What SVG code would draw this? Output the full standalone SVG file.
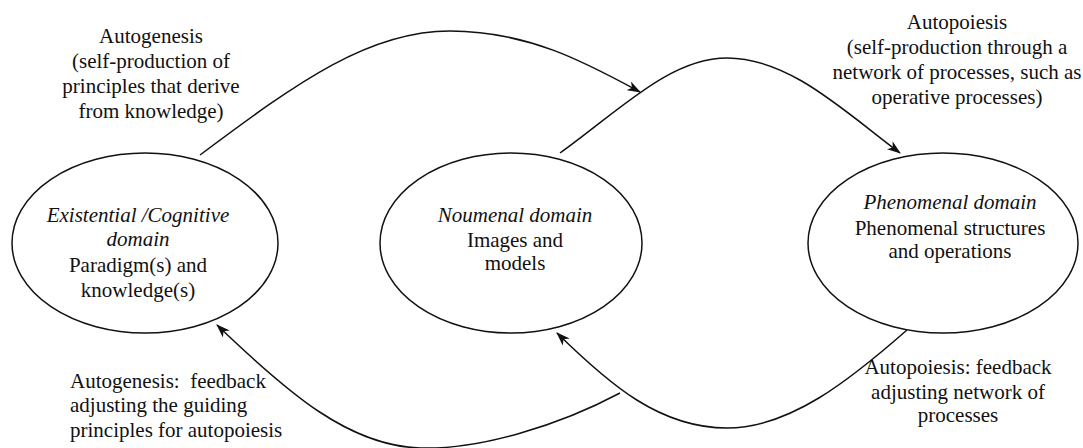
<svg xmlns="http://www.w3.org/2000/svg" width="1083" height="448" viewBox="0 0 1083 448">
  <defs>
    <marker id="arrow" viewBox="0 0 14 10" refX="13" refY="5" markerWidth="14" markerHeight="10" markerUnits="userSpaceOnUse" orient="auto">
      <path d="M0,0 L14,5 L0,10 L4,5 Z" fill="#111"/>
    </marker>
  </defs>
  <style>
    .domain { fill: #fff; stroke: #111; stroke-width: 1.5; }
    .link { fill: none; stroke: #111; stroke-width: 1.5; marker-end: url(#arrow); }
    text { font-family: "Liberation Serif", "Times New Roman", serif; font-size: 21px; fill: #111; }
    .mid { text-anchor: middle; }
    .it { font-style: italic; }
  </style>
  <rect width="1083" height="448" fill="#fff"/>

  <!-- connectors -->
  <g id="connectors">
    <path class="link" d="M200,155 C300,80 370,31 450,31 C530,31 590,65 640,92"/>
    <path class="link" d="M560,153 C620,110 670,58 727,58 C790,58 845,112 900,153"/>
    <path class="link" d="M907,330 C850,380 790,428 727,428 C660,428 610,385 557,333"/>
    <path class="link" d="M620,393 C560,425 480,450 420,448 C350,446 290,395 217,325"/>
  </g>

  <!-- domains -->
  <g id="existential">
    <ellipse class="domain" cx="145" cy="243" rx="133" ry="90"/>
    <text class="mid it" x="138" y="222">Existential /Cognitive</text>
    <text class="mid it" x="138" y="246">domain</text>
    <text class="mid" x="138" y="272">Paradigm(s) and</text>
    <text class="mid" x="138" y="297">knowledge(s)</text>
  </g>
  <g id="noumenal">
    <ellipse class="domain" cx="511" cy="243" rx="131" ry="90"/>
    <text class="mid it" x="515" y="222">Noumenal domain</text>
    <text class="mid" x="515" y="247">Images and</text>
    <text class="mid" x="515" y="270">models</text>
  </g>
  <g id="phenomenal">
    <ellipse class="domain" cx="943" cy="243" rx="135" ry="90"/>
    <text class="mid it" x="950" y="209">Phenomenal domain</text>
    <text class="mid" x="950" y="235">Phenomenal structures</text>
    <text class="mid" x="950" y="258">and operations</text>
  </g>

  <!-- connector labels -->
  <g id="label-autogenesis">
    <text class="mid" x="151" y="43">Autogenesis</text>
    <text class="mid" x="151" y="68">(self-production of</text>
    <text class="mid" x="151" y="93">principles that derive</text>
    <text class="mid" x="151" y="118">from knowledge)</text>
  </g>
  <g id="label-autopoiesis">
    <text class="mid" x="957" y="29">Autopoiesis</text>
    <text class="mid" x="957" y="54">(self-production through a</text>
    <text class="mid" x="957" y="79">network of processes, such as</text>
    <text class="mid" x="957" y="104">operative processes)</text>
  </g>
  <g id="label-autopoiesis-feedback">
    <text class="mid" x="958" y="374">Autopoiesis: feedback</text>
    <text class="mid" x="958" y="399">adjusting network of</text>
    <text class="mid" x="958" y="422">processes</text>
  </g>
  <g id="label-autogenesis-feedback">
    <text x="70" y="388">Autogenesis:&#160; feedback</text>
    <text x="70" y="412">adjusting the guiding</text>
    <text x="70" y="437">principles for autopoiesis</text>
  </g>
</svg>
